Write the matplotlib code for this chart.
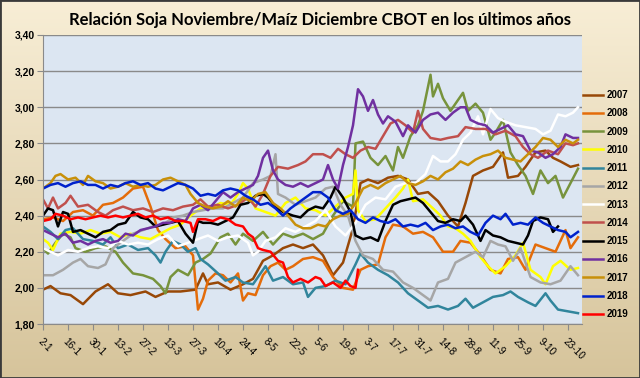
import matplotlib
matplotlib.use('Agg')
import matplotlib.pyplot as plt
import numpy as np
from matplotlib.patches import Rectangle
from matplotlib.colors import LinearSegmentedColormap
from matplotlib import font_manager

title = 'Relación Soja Noviembre/Maíz Diciembre CBOT en los últimos años'
tick_labels = ['2-1', '16-1', '30-1', '13-2', '27-2', '13-3', '27-3', '10-4', '24-4', '8-5', '22-5',
               '5-6', '19-6', '3-7', '17-7', '31-7', '14-8', '28-8', '11-9', '25-9', '9-10', '23-10']
years = ['2007', '2008', '2009', '2010', '2011', '2012', '2013', '2014', '2015', '2016', '2017', '2018', '2019']
colors = ['#984807', '#E46C0A', '#77933C', '#FFFF00', '#31859C', '#A6A6A6', '#FFFFFF',
          '#C0504D', '#000000', '#7030A0', '#C8900A', '#0022CC', '#FF0000']

# (trading-day index, ratio)
s2007 = [(0,1.99),(3,2.01),(7,1.97),(11,1.96),(16,1.91),(21,1.98),(26,2.02),(30,1.97),(35,1.96),(41,1.98),
         (45,1.95),(50,1.98),(55,1.98),(61,1.99),(64,2.08),(66,2.02),(70,2.03),(75,1.99),(80,2.02),(84,2.05),
         (88,2.15),(92,2.18),(96,2.22),(100,2.24),(104,2.22),(108,2.24),(112,2.18),(116,2.07),(120,2.14),(124,2.33),
         (127,2.58),(130,2.60),(134,2.58),(138,2.61),(142,2.62),(146,2.60),(150,2.52),(154,2.53),(158,2.48),(162,2.40),
         (166,2.34),(169,2.47),(172,2.62),(176,2.65),(180,2.67),(184,2.75),(186,2.61),(190,2.62),(193,2.67),(197,2.75),
         (201,2.76),(204,2.72),(207,2.70),(211,2.67),(214,2.68)]
s2008 = [(0,2.38),(4,2.39),(8,2.37),(12,2.42),(16,2.43),(20,2.40),(24,2.46),(28,2.47),(32,2.50),(36,2.55),
         (40,2.56),(43,2.45),(46,2.32),(49,2.27),(53,2.22),(57,2.23),(60,2.18),(62,1.88),(64,1.94),(66,2.04),
         (69,2.08),(72,2.07),(75,2.03),(78,2.08),(80,1.93),(82,1.97),(85,1.96),(88,2.07),(91,2.12),(94,2.14),
         (97,2.10),(100,2.12),(104,2.16),(108,2.17),(112,2.15),(116,2.06),(120,2.00),(124,1.99),(127,2.10),(130,2.12),
         (134,2.13),(137,2.28),(140,2.35),(144,2.34),(148,2.30),(152,2.31),(156,2.28),(160,2.20),(164,2.20),(167,2.26),
         (171,2.25),(175,2.18),(179,2.10),(183,2.08),(186,2.16),(190,2.17),(193,2.10),(197,2.24),(201,2.22),(205,2.20),
         (209,2.32),(211,2.22),(214,2.28)]
s2009 = [(0,2.22),(2,2.19),(5,2.25),(8,2.30),(11,2.28),(13,2.22),(17,2.20),(21,2.22),(25,2.23),(29,2.20),
         (32,2.14),(36,2.08),(40,2.07),(44,2.05),(47,2.01),(49,1.97),(51,2.06),(54,2.10),(58,2.07),(61,2.14),
         (64,2.16),(67,2.19),(71,2.28),(74,2.30),(77,2.24),(80,2.30),(84,2.26),(88,2.31),(92,2.24),(96,2.30),
         (100,2.28),(104,2.30),(108,2.27),(112,2.30),(116,2.40),(120,2.48),(124,2.45),(125,2.80),(128,2.81),(131,2.72),
         (134,2.68),(137,2.73),(140,2.65),(142,2.78),(144,2.72),(147,2.84),(150,2.90),(152,2.98),(155,3.18),(156,3.06),
         (158,3.13),(160,3.05),(163,2.98),(165,3.02),(168,3.08),(170,2.98),(173,3.02),(176,2.97),(179,2.82),(181,2.86),
         (184,2.93),(187,2.75),(190,2.68),(193,2.62),(196,2.52),(199,2.65),(202,2.58),(205,2.62),(208,2.50),(211,2.58),
         (214,2.66)]
s2010 = [(0,2.27),(2,2.25),(4,2.21),(7,2.30),(11,2.31),(15,2.30),(19,2.32),(23,2.30),(27,2.31),(31,2.28),
         (35,2.30),(39,2.28),(43,2.27),(47,2.30),(51,2.33),(55,2.35),(59,2.40),(63,2.44),(67,2.44),(71,2.47),
         (75,2.46),(78,2.52),(80,2.58),(82,2.55),(85,2.44),(89,2.42),(93,2.40),(97,2.47),(101,2.50),(105,2.44),
         (109,2.43),(113,2.40),(117,2.45),(121,2.50),(124,2.52),(125,2.65),(126,2.43),(129,2.37),(133,2.38),(137,2.44),
         (141,2.50),(144,2.55),(146,2.60),(148,2.48),(152,2.49),(156,2.44),(159,2.40),(162,2.34),(165,2.33),(168,2.30),
         (171,2.26),(175,2.17),(178,2.12),(181,2.08),(185,2.12),(189,2.18),(192,2.25),(195,2.10),(199,2.06),(201,2.02),
         (204,2.12),(207,2.15),(211,2.10),(214,2.11)]
s2011 = [(0,2.34),(3,2.31),(6,2.27),(9,2.32),(12,2.33),(16,2.27),(20,2.26),(24,2.24),(27,2.28),(30,2.22),
         (34,2.24),(38,2.21),(42,2.22),(45,2.18),(47,2.14),(49,2.20),(52,2.26),(55,2.24),(58,2.20),(61,2.22),
         (63,2.16),(66,2.13),(70,2.08),(73,2.04),(77,2.06),(80,2.03),(84,2.02),(86,2.06),(89,2.12),(92,2.04),
         (96,2.06),(100,2.02),(104,2.03),(106,1.95),(109,2.00),(113,2.01),(117,2.04),(121,2.02),(125,2.13),(127,2.19),
         (130,2.14),(134,2.10),(138,2.07),(142,2.03),(146,1.97),(150,1.93),(154,1.89),(158,1.90),(162,1.88),(166,1.90),
         (169,1.94),(172,1.89),(176,1.92),(180,1.95),(184,1.96),(187,1.98),(190,1.95),(194,1.92),(197,1.90),(201,1.97),
         (203,1.93),(206,1.88),(210,1.87),(214,1.86)]
s2012 = [(0,2.07),(4,2.07),(8,2.10),(12,2.14),(15,2.16),(18,2.12),(22,2.11),(25,2.13),(28,2.22),(32,2.26),
         (36,2.30),(40,2.32),(44,2.34),(48,2.35),(52,2.39),(56,2.40),(60,2.42),(64,2.43),(68,2.44),(72,2.44),
         (76,2.47),(80,2.50),(84,2.58),(88,2.60),(91,2.62),(93,2.74),(94,2.52),(97,2.50),(101,2.46),(105,2.48),
         (109,2.50),(113,2.55),(116,2.56),(119,2.46),(122,2.40),(125,2.26),(128,2.18),(132,2.16),(136,2.10),(140,2.09),
         (144,2.03),(148,2.00),(152,1.96),(155,1.93),(158,2.03),(162,2.05),(165,2.14),(169,2.17),(173,2.20),(176,2.17),
         (179,2.26),(182,2.24),(185,2.23),(188,2.15),(191,2.22),(195,2.06),(199,2.03),(203,2.02),(207,2.04),(211,2.12),
         (214,2.07)]
s2013 = [(0,2.22),(3,2.20),(6,2.18),(10,2.21),(14,2.20),(18,2.22),(22,2.23),(26,2.22),(30,2.26),(34,2.24),
         (38,2.25),(42,2.24),(46,2.27),(50,2.29),(54,2.23),(58,2.25),(62,2.27),(66,2.29),(70,2.26),(74,2.28),
         (78,2.29),(82,2.25),(84,2.18),(86,2.20),(89,2.26),(93,2.28),(97,2.33),(101,2.31),(105,2.34),(109,2.37),
         (113,2.43),(117,2.34),(121,2.29),(125,2.36),(129,2.46),(133,2.50),(137,2.49),(141,2.56),(145,2.58),(149,2.58),
         (153,2.63),(156,2.73),(159,2.70),(162,2.70),(165,2.74),(168,2.82),(171,2.86),(174,2.95),(176,2.85),(179,2.99),
         (182,2.94),(185,2.92),(189,2.90),(193,2.89),(197,2.88),(200,2.85),(203,2.87),(206,2.96),(209,2.95),(212,2.97),
         (214,3.00)]
s2014 = [(0,2.49),(2,2.44),(4,2.50),(6,2.44),(9,2.47),(11,2.51),(14,2.45),(18,2.46),(22,2.42),(25,2.40),
         (28,2.43),(32,2.45),(36,2.43),(40,2.44),(44,2.42),(48,2.44),(52,2.43),(56,2.45),(60,2.46),(63,2.49),
         (66,2.45),(70,2.46),(74,2.44),(78,2.46),(82,2.50),(85,2.45),(88,2.52),(91,2.62),(94,2.67),(98,2.66),
         (102,2.68),(105,2.70),(108,2.74),(112,2.74),(115,2.72),(118,2.77),(121,2.74),(124,2.72),(127,2.76),(130,2.78),
         (133,2.77),(136,2.84),(139,2.91),(142,2.93),(145,2.90),(148,2.86),(150,2.98),(152,2.88),(155,2.83),(159,2.82),
         (162,2.83),(166,2.84),(169,2.89),(173,2.88),(177,2.88),(181,2.85),(185,2.87),(189,2.84),(192,2.78),(195,2.74),
         (198,2.72),(202,2.76),(206,2.74),(209,2.80),(212,2.79),(214,2.80)]
s2015 = [(0,2.40),(2,2.44),(4,2.43),(6,2.34),(8,2.42),(10,2.41),(12,2.31),(15,2.32),(18,2.30),(21,2.28),
         (24,2.31),(27,2.32),(30,2.35),(33,2.36),(36,2.42),(39,2.39),(42,2.38),(45,2.34),(48,2.35),(51,2.36),
         (54,2.37),(57,2.30),(60,2.25),(62,2.37),(64,2.36),(67,2.36),(70,2.35),(73,2.37),(76,2.39),(79,2.46),
         (82,2.47),(85,2.51),(88,2.52),(90,2.50),(93,2.45),(96,2.42),(100,2.40),(103,2.39),(106,2.43),(109,2.45),
         (112,2.44),(115,2.50),(117,2.56),(120,2.50),(123,2.42),(125,2.29),(128,2.27),(131,2.28),(134,2.26),(137,2.37),
         (140,2.46),(143,2.48),(146,2.49),(149,2.50),(152,2.47),(155,2.42),(158,2.37),(161,2.36),(164,2.38),(167,2.37),
         (169,2.40),(172,2.35),(175,2.26),(177,2.32),(180,2.29),(183,2.28),(186,2.26),(189,2.25),(192,2.24),(194,2.29),
         (196,2.37),(199,2.39),(202,2.38),(204,2.31),(206,2.34)]
s2016 = [(0,2.32),(3,2.30),(6,2.28),(9,2.30),(12,2.25),(15,2.26),(18,2.24),(21,2.26),(24,2.27),(27,2.25),
         (30,2.26),(33,2.30),(36,2.29),(39,2.32),(42,2.33),(45,2.34),(48,2.36),(51,2.36),(54,2.38),(57,2.37),
         (60,2.44),(63,2.46),(66,2.43),(69,2.48),(72,2.53),(75,2.50),(78,2.53),(81,2.55),(84,2.57),(86,2.62),
         (88,2.72),(90,2.76),(92,2.65),(94,2.60),(97,2.57),(100,2.56),(103,2.58),(106,2.56),(109,2.58),(112,2.60),
         (114,2.68),(116,2.60),(118,2.55),(120,2.68),(122,2.78),(124,2.90),(126,3.10),(128,3.06),(130,2.98),(132,3.04),
         (134,2.96),(136,2.91),(138,2.95),(141,2.92),(144,2.84),(146,2.90),(149,2.86),(152,2.93),(155,2.96),(158,2.97),
         (161,2.93),(164,2.97),(167,3.00),(169,3.00),(171,2.93),(174,2.91),(177,2.90),(180,2.86),(183,2.88),(186,2.90),
         (189,2.85),(192,2.84),(195,2.76),(198,2.75),(201,2.72),(204,2.74),(207,2.78),(209,2.85),(212,2.83),(214,2.83)]
s2017 = [(0,2.55),(3,2.58),(5,2.62),(7,2.63),(10,2.60),(13,2.61),(16,2.57),(18,2.62),(21,2.59),(24,2.58),
         (27,2.55),(30,2.56),(33,2.58),(36,2.56),(39,2.57),(42,2.56),(45,2.57),(48,2.60),(51,2.61),(54,2.59),
         (57,2.57),(59,2.52),(62,2.47),(65,2.45),(68,2.44),(71,2.45),(74,2.48),(77,2.45),(80,2.50),(83,2.48),
         (86,2.52),(89,2.53),(92,2.47),(95,2.44),(98,2.40),(101,2.35),(104,2.33),(107,2.33),(110,2.35),(113,2.34),
         (116,2.38),(119,2.40),(122,2.41),(125,2.47),(128,2.55),(131,2.57),(134,2.55),(137,2.58),(140,2.60),(143,2.62),
         (146,2.58),(149,2.57),(152,2.59),(155,2.62),(158,2.60),(161,2.64),(164,2.66),(167,2.70),(170,2.68),(173,2.71),
         (176,2.73),(179,2.74),(182,2.76),(185,2.72),(188,2.71),(191,2.70),(194,2.74),(197,2.78),(200,2.83),(203,2.82),
         (206,2.78),(209,2.82),(212,2.80),(214,2.82)]
s2018 = [(0,2.55),(3,2.57),(6,2.58),(9,2.56),(12,2.58),(15,2.59),(18,2.57),(21,2.57),(24,2.55),(27,2.57),
         (30,2.56),(33,2.58),(36,2.59),(39,2.57),(42,2.58),(45,2.55),(48,2.54),(51,2.56),(54,2.58),(57,2.57),
         (60,2.55),(63,2.51),(66,2.52),(69,2.51),(72,2.54),(75,2.55),(78,2.54),(81,2.51),(84,2.49),(87,2.46),
         (90,2.47),(93,2.44),(96,2.40),(99,2.44),(102,2.47),(105,2.50),(108,2.53),(111,2.53),(114,2.50),(117,2.43),
         (120,2.41),(123,2.43),(126,2.38),(129,2.36),(132,2.39),(135,2.37),(138,2.36),(141,2.38),(144,2.34),(147,2.35),
         (150,2.34),(153,2.36),(156,2.32),(159,2.34),(162,2.35),(165,2.33),(168,2.34),(171,2.31),(174,2.29),(177,2.36),
         (180,2.40),(183,2.38),(185,2.41),(188,2.35),(191,2.36),(194,2.35),(197,2.39),(200,2.36),(203,2.34),(206,2.32),
         (209,2.31),(211,2.28),(214,2.31)]
s2019 = [(0,2.37),(3,2.38),(5,2.41),(8,2.40),(11,2.38),(14,2.39),(17,2.38),(20,2.39),(23,2.40),(26,2.39),
         (29,2.40),(32,2.39),(35,2.40),(38,2.41),(41,2.39),(44,2.40),(47,2.38),(50,2.39),(53,2.37),(56,2.37),
         (59,2.36),(60,2.31),(62,2.38),(65,2.38),(68,2.37),(71,2.39),(74,2.38),(77,2.35),(80,2.34),(82,2.30),
         (84,2.28),(86,2.22),(88,2.21),(91,2.20),(94,2.15),(96,2.14),(98,2.06),(100,2.03),(103,2.05),(106,2.03),
         (109,2.06),(111,2.05),(113,2.01),(116,2.03),(119,2.00),(121,2.04),(123,2.01),(125,2.00),(126,2.10)]

series = [s2007, s2008, s2009, s2010, s2011, s2012, s2013, s2014, s2015, s2016, s2017, s2018, s2019]

names = {f.name for f in font_manager.fontManager.ttflist}
title_font = 'Lato' if 'Lato' in names else 'DejaVu Sans'
lab_font = 'Liberation Sans' if 'Liberation Sans' in names else 'DejaVu Sans'

W, H = 640, 378
fig = plt.figure(figsize=(W / 100, H / 100), dpi=100)

bg = fig.add_axes([0, 0, 1, 1], zorder=-10)
grad = np.linspace(0, 1, 256).reshape(-1, 1)
cmap = LinearSegmentedColormap.from_list('bg', ['#F8EED6', '#D6C49B'])
bg.imshow(grad, aspect='auto', cmap=cmap, extent=[0, 1, 0, 1])
bg.set_axis_off()

x0, x1, yt, yb = 43, 582, 35, 324
ax = fig.add_axes([x0 / W, 1 - yb / H, (x1 - x0) / W, (yb - yt) / H])
ax.set_facecolor('#DCE6F2')

for name, col, s in zip(years, colors, series):
    d = [p[0] for p in s]
    v = [p[1] for p in s]
    ax.plot(d, v, color=col, lw=1.8, label=name, solid_joinstyle='round')

ax.set_xlim(0, 215.6)
ax.set_ylim(1.8, 3.4)
yt_vals = np.round(np.arange(1.8, 3.41, 0.2), 2)
ax.set_yticks(yt_vals)
ax.set_yticklabels([f'{v:.2f}'.replace('.', ',') for v in yt_vals], fontsize=7.5,
                   fontweight='bold', family=lab_font)
ax.yaxis.grid(True, color='#8A8A8A', lw=1.0)
ax.set_axisbelow(True)
ax.set_xticks(np.arange(0, 211, 10))
ax.set_xticklabels(tick_labels, rotation=-45, ha='left', va='top', rotation_mode='anchor',
                   fontsize=7.2, family=lab_font)
ax.tick_params(axis='both', direction='out', length=4, color='#8A8A8A', pad=2)
ax.tick_params(axis='x', pad=5)
for sp in ['top', 'right']:
    ax.spines[sp].set_visible(False)
for sp in ['left', 'bottom']:
    ax.spines[sp].set_color('#8A8A8A')

leg = ax.legend(loc='upper left', bbox_to_anchor=(583 / W, 1 - 90 / H), bbox_transform=fig.transFigure,
                frameon=False, prop={'weight': 'bold', 'size': 7, 'family': lab_font},
                handlelength=2.1, handletextpad=0.3, labelspacing=0.85, borderaxespad=0, borderpad=0)

fig.text(0.50, 1 - 20 / H, title, ha='center', va='center', fontsize=12, fontweight='bold',
         family=title_font)

fig.patches.append(Rectangle((0, 0), 1, 1, transform=fig.transFigure, fill=False,
                             edgecolor='#3A3A3A', lw=2.0, zorder=10))

fig.savefig('out.png', dpi=100)
